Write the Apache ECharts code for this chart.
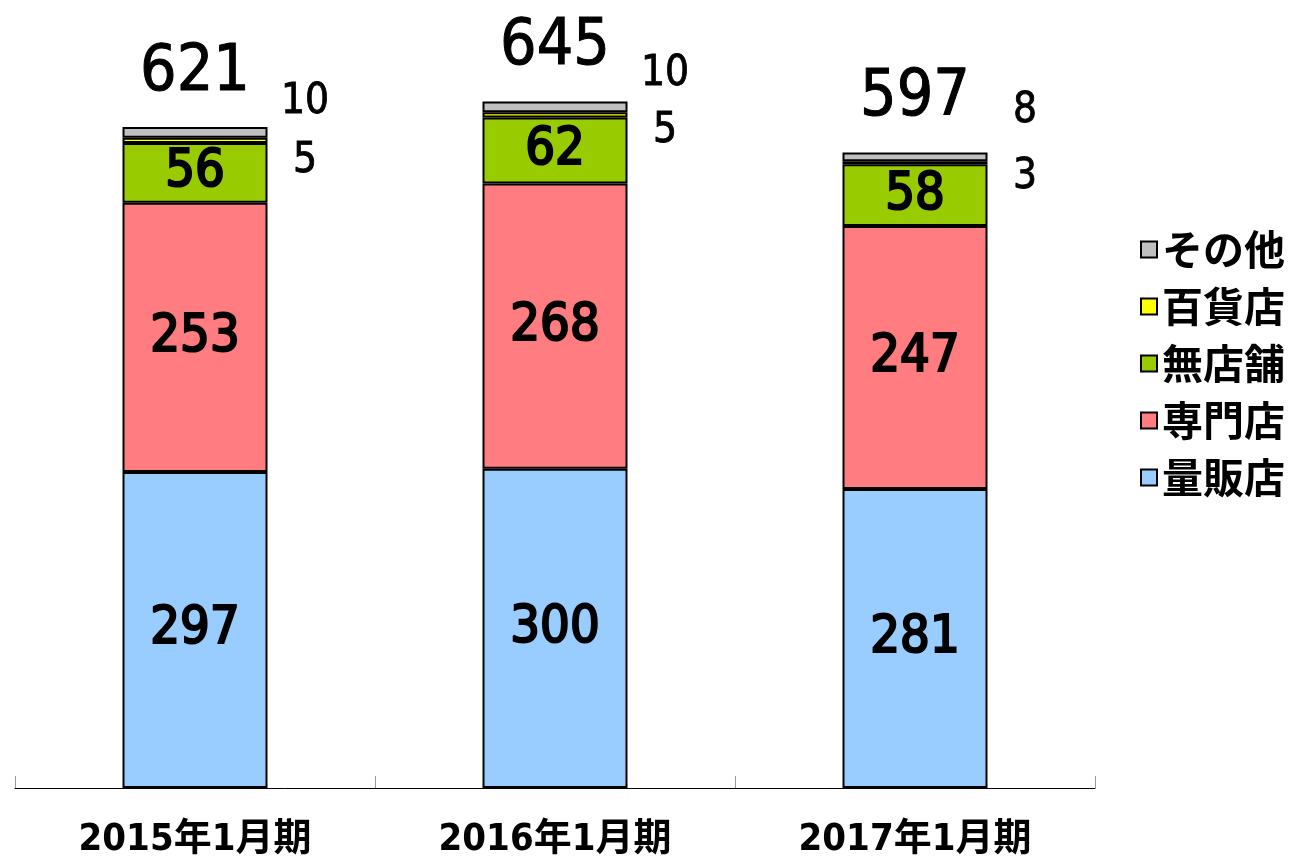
<!DOCTYPE html>
<html>
<head>
<meta charset="utf-8">
<script src="https://cdn.jsdelivr.net/npm/echarts@6/dist/echarts.min.js"></script>
<style>
html,body{margin:0;padding:0;background:#fff;}
#chart{width:1294px;height:862px;}
</style>
</head>
<body>
<div id="chart"></div>
<script>
const categories = ['2015年1月期', '2016年1月期', '2017年1月期'];
const ryohanten = [297, 300, 281];   // 量販店
const senmonten = [253, 268, 247];   // 専門店
const mutenpo   = [56, 62, 58];      // 無店舗
const hyakkaten = [5, 5, 3];         // 百貨店
const sonota    = [10, 10, 8];       // その他
const totals    = [621, 645, 597];

// label layout (pixel offsets for the small outside labels)
const sonotaLabelDy = [-30, -33, -46];
const hyakkaLabelDy = [21, 16, 14];
const sideDx = 110;

const FONT = "'Liberation Sans Narrow', 'DejaVu Sans Condensed', 'Noto Sans CJK JP', sans-serif";
const border = { borderColor: '#000', borderWidth: 2 };

function inLabel() {
  return { show: true, position: 'inside', color: '#000', fontFamily: FONT, fontSize: 52,
           textBorderColor: '#000', textBorderWidth: 2.2 };
}
function sideData(vals, dys) {
  return vals.map((v, i) => ({
    value: v,
    label: { offset: [sideDx, dys[i]] }
  }));
}

const chart = echarts.init(document.getElementById('chart'));
chart.setOption({
  animation: false,
  backgroundColor: '#fff',
  grid: { left: 15, right: 199, top: 43, bottom: 74 },
  legend: {
    data: ['その他', '百貨店', '無店舗', '専門店', '量販店'],
    orient: 'vertical',
    left: 1135,
    top: 224,
    itemWidth: 16,
    itemHeight: 16,
    itemGap: 16,
    icon: 'rect',
    textStyle: { fontFamily: "'Noto Sans CJK JP', sans-serif", fontSize: 41, fontWeight: 'bold', color: '#000', lineHeight: 40, padding: [0, 0, 0, 0] }
  },
  xAxis: {
    type: 'category',
    data: categories,
    axisLine: { lineStyle: { color: '#000', width: 1 } },
    axisTick: { show: true, inside: true, length: 12, lineStyle: { color: '#999' } },
    axisLabel: { color: '#000', fontFamily: FONT, fontSize: 38, fontWeight: 'bold', margin: 33, lineHeight: 38 }
  },
  yAxis: { type: 'value', min: 0, max: 700, show: false, splitLine: { show: false } },
  series: [
    { name: '量販店', type: 'bar', stack: 'a', barWidth: 145, data: ryohanten,
      itemStyle: Object.assign({ color: '#99CCFF' }, border), label: inLabel() },
    { name: '専門店', type: 'bar', stack: 'a', barWidth: 145, data: senmonten,
      itemStyle: Object.assign({ color: '#FF7C80' }, border), label: inLabel() },
    { name: '無店舗', type: 'bar', stack: 'a', barWidth: 145, data: mutenpo,
      itemStyle: Object.assign({ color: '#99CC00' }, border), label: inLabel() },
    { name: '百貨店', type: 'bar', stack: 'a', barWidth: 145, data: sideData(hyakkaten, hyakkaLabelDy),
      itemStyle: Object.assign({ color: '#FFFF00' }, border),
      label: { show: true, position: 'inside', color: '#000', fontFamily: FONT, fontSize: 42,
               textBorderColor: '#000', textBorderWidth: 0.8 } },
    { name: 'その他', type: 'bar', stack: 'a', barWidth: 145, data: sideData(sonota, sonotaLabelDy),
      itemStyle: Object.assign({ color: '#C0C0C0' }, border),
      label: { show: true, position: 'inside', color: '#000', fontFamily: FONT, fontSize: 42,
               textBorderColor: '#000', textBorderWidth: 0.8 } },
    { name: '合計', type: 'bar', barWidth: 145, barGap: '-100%', data: totals, z: 1,
      itemStyle: { color: 'rgba(0,0,0,0)' },
      label: { show: true, position: 'top', distance: 22, color: '#000', fontFamily: FONT, fontSize: 64,
               textBorderColor: '#000', textBorderWidth: 1 } }
  ]
});
</script>
</body>
</html>
